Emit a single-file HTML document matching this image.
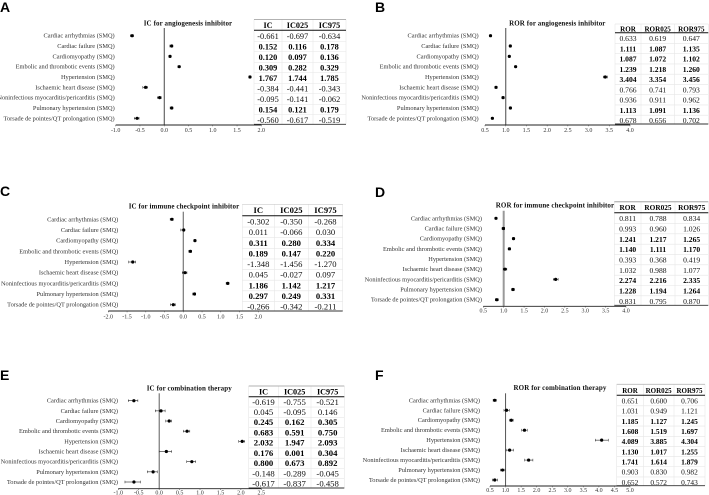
<!DOCTYPE html>
<html>
<head>
<meta charset="utf-8">
<title>Disproportionality forest plots</title>
<style>
html,body{margin:0;padding:0;background:#fff;}
svg{display:block;filter:blur(.25px);}
text{font-family:"Liberation Serif",serif;}
.letter{font-family:"Liberation Sans",sans-serif;font-weight:bold;font-size:14px;fill:#000;}
.title{font-weight:bold;font-size:7px;fill:#111;letter-spacing:.1px;text-anchor:middle;}
.cat{font-size:6.35px;fill:#333;text-anchor:end;}
.tick{font-size:6px;fill:#333;text-anchor:middle;}
.cell{fill:#111;text-anchor:middle;}
.cell.sig{font-weight:bold;fill:#000;}
.head{font-weight:bold;fill:#000;text-anchor:middle;}
</style>
</head>
<body>
<svg id="figure" width="709" height="495" viewBox="0 0 709 495" xmlns="http://www.w3.org/2000/svg"></svg>
<script>
var categories = ["Cardiac arrhythmias (SMQ)","Cardiac failure (SMQ)","Cardiomyopathy (SMQ)","Embolic and thrombotic events (SMQ)","Hypertension (SMQ)","Ischaemic heart disease (SMQ)","Noninfectious myocarditis/pericarditis (SMQ)","Pulmonary hypertension (SMQ)","Torsade de pointes/QT prolongation (SMQ)"];

var estA = [-0.661,0.152,0.120,0.309,1.767,-0.384,-0.095,0.154,-0.560];
var lowA = [-0.697,0.116,0.097,0.282,1.744,-0.441,-0.141,0.121,-0.617];
var highA = [-0.634,0.178,0.136,0.329,1.785,-0.343,-0.062,0.179,-0.519];
var ticksA = [-1.0,-0.5,0.0,0.5,1.0,1.5,2.0];

var estB = [0.633,1.111,1.087,1.239,3.404,0.766,0.936,1.113,0.678];
var lowB = [0.619,1.087,1.072,1.218,3.354,0.741,0.911,1.091,0.656];
var highB = [0.647,1.135,1.102,1.260,3.456,0.793,0.962,1.136,0.702];
var ticksB = [0.5,1.0,1.5,2.0,2.5,3.0,3.5,4.0];

var estC = [-0.302,0.011,0.311,0.189,-1.348,0.045,1.186,0.297,-0.266];
var lowC = [-0.350,-0.066,0.280,0.147,-1.456,-0.027,1.142,0.249,-0.342];
var highC = [-0.268,0.030,0.334,0.220,-1.270,0.097,1.217,0.331,-0.211];
var ticksC = [-2.0,-1.5,-1.0,-0.5,0.0,0.5,1.0,1.5,2.0];

var estD = [0.811,0.993,1.241,1.140,0.393,1.032,2.274,1.228,0.831];
var lowD = [0.788,0.960,1.217,1.111,0.368,0.988,2.216,1.194,0.795];
var highD = [0.834,1.026,1.265,1.170,0.419,1.077,2.335,1.264,0.870];
var ticksD = [0.5,1.0,1.5,2.0,2.5,3.0,3.5,4.0];

var estE = [-0.619,0.045,0.245,0.683,2.032,0.176,0.800,-0.148,-0.617];
var lowE = [-0.755,-0.095,0.162,0.591,1.947,0.001,0.673,-0.289,-0.837];
var highE = [-0.521,0.146,0.305,0.750,2.093,0.304,0.892,-0.045,-0.458];
var ticksE = [-1.0,-0.5,0.0,0.5,1.0,1.5,2.0,2.5];

var estF = [0.651,1.031,1.185,1.608,4.089,1.130,1.741,0.903,0.652];
var lowF = [0.600,0.949,1.127,1.519,3.885,1.017,1.614,0.830,0.572];
var highF = [0.706,1.121,1.245,1.697,4.304,1.255,1.879,0.982,0.743];
var ticksF = [0.5,1.0,1.5,2.0,2.5,3.0,3.5,4.0,4.5,5.0];

var NS = "http://www.w3.org/2000/svg";
var svg = document.getElementById("figure");

function make(parent, tag, attrs, txt) {
  var el = document.createElementNS(NS, tag);
  for (var k in attrs) el.setAttribute(k, attrs[k]);
  if (txt !== undefined) el.textContent = txt;
  parent.appendChild(el);
  return el;
}

function drawPanel(p) {
  var g = make(svg, "g", {});
  
  

  var min = p.ticks[0], max = p.ticks[p.ticks.length - 1];
  function xScale(v) { return p.x0 + (v - min) / (max - min) * (p.x1 - p.x0); }
  function yScale(i) { return p.rowTop + i * (p.rowBottom - p.rowTop) / (categories.length - 1); }
  function cellY(i) { return p.cellTop + i * (p.cellBottom - p.cellTop) / (categories.length - 1); }

  var letter = make(g, "text", {"class": "letter", x: p.lx, y: p.ly}, p.letter);
  
  

  var title = make(g, "text", {"class": "title", x: p.titleX, y: p.titleY}, p.title);
  
  

  categories.forEach(function (c, i) {
    var t = make(g, "text", {"class": "cat", x: p.labelX, y: yScale(i) + 2}, c);
    
    
  });

  // table
  var tb = make(g, "g", {});
  
  
  var L = p.cols[0], R = p.cols[3];
  categories.forEach(function (c, i) {
    if (i > 0) {
      var yy = (cellY(i - 1) + cellY(i)) / 2;
      make(tb, "line", {x1: L, x2: R, y1: yy, y2: yy, stroke: "#e6e6e6", "stroke-width": .6});
    }
  });
  [0, 1, 2, 3].forEach(function (j) {
    make(tb, "line", {x1: p.cols[j], x2: p.cols[j], y1: p.tTop, y2: p.tBottom, stroke: "#e6e6e6", "stroke-width": .6});
  });
  make(tb, "line", {x1: L, x2: R, y1: p.tTop, y2: p.tTop, stroke: p.topColor, "stroke-width": p.topWidth});
  make(tb, "line", {x1: L, x2: R, y1: p.tHead, y2: p.tHead, stroke: "#111", "stroke-width": 1});
  make(tb, "line", {x1: L, x2: R, y1: p.tBottom, y2: p.tBottom, stroke: "#333", "stroke-width": .9});
  var headY = (p.tTop + p.tHead) / 2 + 3;
  p.heads.forEach(function (h, j) {
    var cx = (p.cols[j] + p.cols[j + 1]) / 2;
    var th = make(tb, "text", {"class": "head", "font-size": p.headSize, x: cx, y: headY}, h);
    
    
  });
  categories.forEach(function (c, i) {
    var sig = p.low[i] > p.nullValue;
    [p.est[i], p.low[i], p.high[i]].forEach(function (v, j) {
      var cx = (p.cols[j] + p.cols[j + 1]) / 2;
      var td = make(tb, "text", {"class": sig ? "cell sig" : "cell", "font-size": p.cellSize, x: cx, y: cellY(i) + 2.8}, v.toFixed(3));
      
      
    });
  });

  // reference line
  var nx = xScale(p.nullValue);
  var ref = make(g, "line", {x1: nx, x2: nx, y1: p.refTop, y2: p.axisY, stroke: p.refColor, "stroke-width": p.refWidth});
  
  

  // x axis
  var ax = make(g, "line", {x1: p.x0, x2: p.x1, y1: p.axisY, y2: p.axisY, stroke: "#222", "stroke-width": .9});
  
  
  p.ticks.forEach(function (v) {
    make(g, "line", {x1: xScale(v), x2: xScale(v), y1: p.axisY, y2: p.axisY + 1.3, stroke: "#444", "stroke-width": .5});
    var t = make(g, "text", {"class": "tick", x: xScale(v), y: p.axisY + p.tickOff}, v.toFixed(1));
    
    
  });

  // marks
  categories.forEach(function (c, i) {
    if (p.est[i] < min) return;
    var y = yScale(i);
    var m = make(g, "g", {});
    
    
    var a = xScale(p.low[i]), b = xScale(p.high[i]);
    make(m, "line", {x1: a, x2: b, y1: y, y2: y, stroke: "#222", "stroke-width": .6});
    make(m, "line", {x1: a, x2: a, y1: y - 1.3, y2: y + 1.3, stroke: "#222", "stroke-width": .5});
    make(m, "line", {x1: b, x2: b, y1: y - 1.3, y2: y + 1.3, stroke: "#222", "stroke-width": .5});
    make(m, "circle", {cx: xScale(p.est[i]), cy: y, r: 1.6, fill: "#000"});
  });
}

var icHeads = ["IC","IC025","IC975"];
var rorHeads = ["ROR","ROR025","ROR975"];

drawPanel({letter:"A",lx:0,ly:12,title:"IC for angiogenesis inhibitor",titleX:188,titleY:25.3,labelX:114.7,
  est:estA,low:lowA,high:highA,ticks:ticksA,nullValue:0,heads:icHeads,headSize:8.2,cellSize:8.3,tickOff:7,
  x0:115.7,x1:261.3,axisY:125,refTop:28,refColor:"#333",refWidth:.9,rowTop:35.7,rowBottom:118.3,
  cols:[254,282,313,346],tTop:19.5,tHead:30.3,tBottom:124.3,cellTop:36,cellBottom:120,topColor:"#999",topWidth:.8});

drawPanel({letter:"B",lx:375,ly:12,title:"ROR for angiogenesis inhibitor",titleX:557.3,titleY:25.3,labelX:478.7,
  est:estB,low:lowB,high:highB,ticks:ticksB,nullValue:1,heads:rorHeads,headSize:7.1,cellSize:7.6,tickOff:7,
  x0:485,x1:630,axisY:125,refTop:28,refColor:"#666",refWidth:1.2,rowTop:35.7,rowBottom:118.3,
  cols:[615,641,674.3,708.3],tTop:24,tHead:32.7,tBottom:124,cellTop:38.3,cellBottom:120.3,topColor:"#ddd",topWidth:.6});

drawPanel({letter:"C",lx:0,ly:196,title:"IC for immune checkpoint inhibitor",titleX:184,titleY:208.5,labelX:118.3,
  est:estC,low:lowC,high:highC,ticks:ticksC,nullValue:0,heads:icHeads,headSize:8.6,cellSize:8.6,tickOff:7.5,
  x0:108.3,x1:258.3,axisY:311,refTop:211.7,refColor:"#777",refWidth:1.2,rowTop:219.3,rowBottom:304.7,
  cols:[242.3,274.3,308.3,342.7],tTop:204.3,tHead:215.7,tBottom:311,cellTop:221.7,cellBottom:306.7,topColor:"#ccc",topWidth:.7});

drawPanel({letter:"D",lx:375,ly:197,title:"ROR for immune checkpoint inhibitor",titleX:555,titleY:207.7,labelX:482,
  est:estD,low:lowD,high:highD,ticks:ticksD,nullValue:1,heads:rorHeads,headSize:7.3,cellSize:7.6,tickOff:6.4,
  x0:483.3,x1:626,axisY:306.3,refTop:210.7,refColor:"#999",refWidth:2,rowTop:218.3,rowBottom:299.7,
  cols:[614.3,641,675,708.3],tTop:201.7,tHead:212.7,tBottom:305.3,cellTop:218.3,cellBottom:301,topColor:"#bbb",topWidth:1.4});

drawPanel({letter:"E",lx:0,ly:380,title:"IC for combination therapy",titleX:189.3,titleY:390.3,labelX:118,
  est:estE,low:lowE,high:highE,ticks:ticksE,nullValue:0,heads:icHeads,headSize:8.2,cellSize:8.7,tickOff:6,
  x0:118.3,x1:261.3,axisY:488.7,refTop:393.3,refColor:"#333",refWidth:.8,rowTop:400.7,rowBottom:482,
  cols:[248.7,278.3,311,344.3],tTop:386,tHead:396.7,tBottom:488,cellTop:402,cellBottom:483.7,topColor:"#999",topWidth:.8});

drawPanel({letter:"F",lx:375,ly:380,title:"ROR for combination therapy",titleX:560,titleY:390,labelX:480,
  est:estF,low:lowF,high:highF,ticks:ticksF,nullValue:1,heads:rorHeads,headSize:7,cellSize:7.4,tickOff:6,
  x0:490,x1:630,axisY:486,refTop:393.3,refColor:"#555",refWidth:1,rowTop:400.3,rowBottom:480,
  cols:[616.7,643.3,674,705],tTop:384.3,tHead:395.3,tBottom:485.7,cellTop:400.7,cellBottom:482,topColor:"#bbb",topWidth:.9});
</script>
</body>
</html>
